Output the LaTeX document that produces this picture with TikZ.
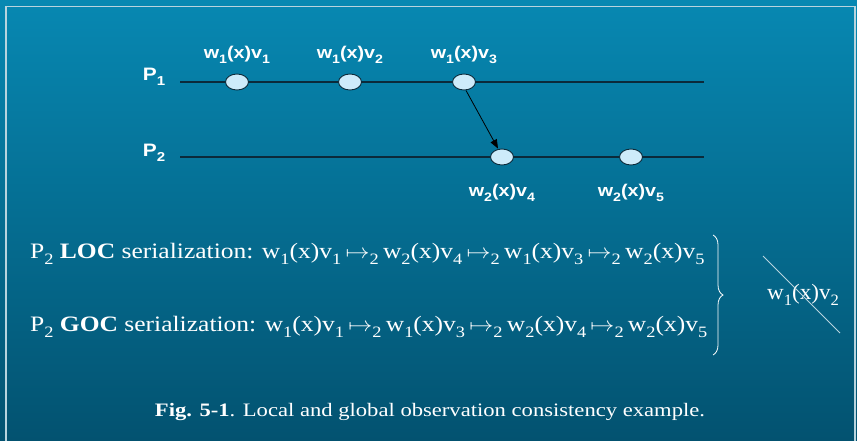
\documentclass[tikz,border=0pt]{standalone}
\usepackage{fontspec}
\setmainfont{Liberation Serif}
\newfontfamily\arialfont{Liberation Sans}
\usetikzlibrary{arrows.meta,decorations.pathreplacing,shapes.geometric}
\definecolor{bgtop}{HTML}{0788B2}
\definecolor{bgbot}{HTML}{035270}
\definecolor{evfill}{HTML}{CDEBFA}
\definecolor{tline}{HTML}{0B2A3A}
\definecolor{frame}{HTML}{B8D4DE}
\newcommand\dn[1]{\raisebox{-0.28em}{\scalebox{0.72}{#1}}}
\newcommand\mto{\,$\mapsto$\dn{2}\,}
\newcommand\hs[2][1.16]{\scalebox{#1}[1]{#2}}
\tikzset{
  tl/.style={draw=tline, line width=1.3pt},
  ev/.style={ellipse, draw=tline, line width=0.9pt, fill=evfill, minimum width=23pt, minimum height=16pt, inner sep=0pt},
  evlab/.style={text=white, font=\arialfont\bfseries\fontsize{17}{20}\selectfont, inner sep=0pt},
  plab/.style={text=white, font=\arialfont\bfseries\fontsize{18}{20}\selectfont, inner sep=0pt},
  sertext/.style={text=white, font=\fontsize{22}{26}\selectfont, inner sep=0pt, anchor=west},
}
\begin{document}
\begin{tikzpicture}[x=1pt,y=-1pt]
\shade[top color=bgtop, bottom color=bgbot] (0,0) rectangle (857,441);
\useasboundingbox (0,0) rectangle (857,441);
\draw[frame, line width=1.4pt] (6,441) -- (6,6.5) -- (855,6.5) -- (855,441);
% process lines
\node[plab] (p1) at (154,77) {\hs{P\dn{1}}};
\node[plab] (p2) at (154,153) {\hs{P\dn{2}}};
\coordinate (l1s) at (180,82);
\coordinate (l1e) at (704,82);
\coordinate (l2s) at (180,157);
\coordinate (l2e) at (704,157);
\draw[tl] (l1s) -- (l1e);
\draw[tl] (l2s) -- (l2e);
% events
\node[ev] (e1) at (237,82) {};
\node[ev] (e2) at (350,82) {};
\node[ev] (e3) at (464,82) {};
\node[ev] (e4) at (502,157) {};
\node[ev] (e5) at (631,157) {};
\node[evlab] (t1) at (237,55) {\hs{w\dn{1}(x)v\dn{1}}};
\node[evlab] (t2) at (350,55) {\hs{w\dn{1}(x)v\dn{2}}};
\node[evlab] (t3) at (464,55) {\hs{w\dn{1}(x)v\dn{3}}};
\node[evlab] (t4) at (502,193) {\hs{w\dn{2}(x)v\dn{4}}};
\node[evlab] (t5) at (631,193) {\hs{w\dn{2}(x)v\dn{5}}};
\draw[black, line width=0.8pt, -{Triangle[length=9pt,width=7pt]}] ([xshift=2pt]e3.south) -- ([xshift=-4pt]e4.north);
% serializations
\node[sertext] (loc) at (30,254) {\hs{P\dn{2} \textbf{LOC} serialization: w\dn{1}(x)v\dn{1}\mto w\dn{2}(x)v\dn{4}\mto w\dn{1}(x)v\dn{3}\mto w\dn{2}(x)v\dn{5}}};
\node[sertext] (goc) at (30,327) {\hs{P\dn{2} \textbf{GOC} serialization: w\dn{1}(x)v\dn{1}\mto w\dn{1}(x)v\dn{3}\mto w\dn{2}(x)v\dn{4}\mto w\dn{2}(x)v\dn{5}}};
\coordinate (bt) at (713,235);
\coordinate (bb) at (713,355);
\draw[white, line width=0.8pt, decorate, decoration={brace, amplitude=10pt}] (bt) -- (bb);
\node[sertext, anchor=center] (w12) at (803,295) {\hs[1.05]{w\dn{1}(x)v\dn{2}}};
\coordinate (sa) at (763,256);
\coordinate (sb) at (840,333);
\draw[frame, line width=0.9pt] (sa) -- (sb);
% caption
\node[text=white, font=\fontsize{19}{22}\selectfont, inner sep=0pt] (cap) at (430,412) {\hs[1.19]{\textbf{Fig. 5-1}. Local and global observation consistency example.}};
\end{tikzpicture}
\end{document}
